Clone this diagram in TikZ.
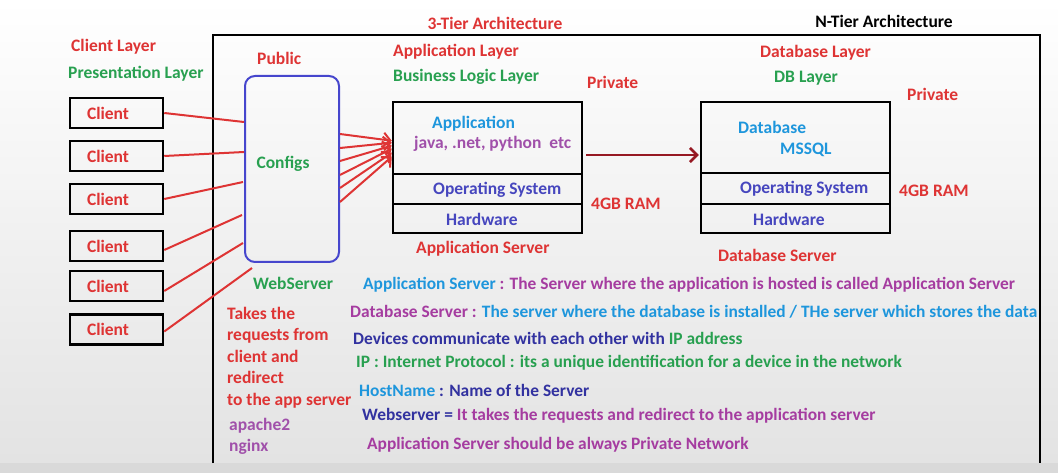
\documentclass[tikz,border=0pt]{standalone}
\usepackage{fontspec}
\setmainfont{Carlito}
\usetikzlibrary{arrows.meta,calc}
\definecolor{tred}{RGB}{222,52,52}
\definecolor{tgreen}{RGB}{40,160,80}
\definecolor{tcyan}{RGB}{30,150,220}
\definecolor{tpurple}{RGB}{160,80,170}
\definecolor{tmag}{RGB}{165,60,160}
\definecolor{tos}{RGB}{70,70,190}
\definecolor{tdblue}{RGB}{50,50,160}
\definecolor{tblue}{RGB}{70,70,205}
\definecolor{tdark}{RGB}{150,25,35}
\begin{document}
\begin{tikzpicture}[x=1pt,y=-1pt,
  font=\bfseries\fontsize{17.5}{20}\selectfont,
  lbl/.style={inner sep=0pt,anchor=west},
  small/.style={inner sep=0pt,anchor=west,font=\bfseries\fontsize{17.4}{20}\selectfont},
  clientbox/.style={draw=black,line width=2.5pt,minimum width=93pt,minimum height=30pt,inner xsep=17pt,text width=59pt,align=left,text=tred},
  tierbox/.style={draw=black,line width=2.5pt,minimum width=189pt,inner sep=0pt},
  redline/.style={draw=tred,line width=2pt},
  redarrow/.style={draw=tred,line width=2pt,-{Straight Barb[length=7pt,width=14pt,line width=2pt]}},
]
\useasboundingbox (0,0) rectangle (1058,473);
\shade[top color=white,bottom color=gray!22] (0,0) rectangle (1058,463);
\fill[gray!30] (0,463) rectangle (1058,473);

% frame
\draw[line width=2.5pt] (213,463) -- (213,35) -- (1040,35) -- (1040,463);

% titles
\node[inner sep=0pt,text=tred] (t3) at (495,23) {3-Tier Architecture};
\node[inner sep=0pt,text=black] (tn) at (884,21) {N-Tier Architecture};

% left labels
\node[lbl,text=tred] (cl) at (71,47) {Client Layer};
\node[lbl,text=tgreen] (pl) at (68,74) {Presentation Layer};
\node[lbl,text=tred] (pub) at (257,58) {Public};

% clients
\node[clientbox] (c1) at (116.5,113) {Client};
\node[clientbox] (c2) at (116.5,156) {Client};
\node[clientbox] (c3) at (116.5,199) {Client};
\node[clientbox] (c4) at (116.5,246) {Client};
\node[clientbox] (c5) at (116.5,286) {Client};
\node[clientbox] (c6) at (116.5,329.5) {Client};

% web server
\node[draw=tblue,line width=2pt,rounded corners=10pt,minimum width=94pt,minimum height=186pt] (ws) at (292,169) {};
\node[inner sep=0pt,text=tgreen] (cfg) at (283,164) {Configs};
\node[lbl,text=tgreen] (wsl) at (253,283) {WebServer};
\node[lbl,text=tred,align=left,font=\bfseries\fontsize{17.5}{21.5}\selectfont,anchor=north west] (takes) at (227,307) {Takes the\\requests from\\client and\\redirect\\to the app server};
\node[lbl,text=tpurple] (ap2) at (229,426) {apache2};
\node[lbl,text=tpurple] (ngx) at (229,447) {nginx};

% client -> webserver lines
\coordinate (w1) at ($(ws.north west)+(0,47)$);
\coordinate (w2) at ($(ws.north west)+(0,77)$);
\coordinate (w3) at ($(ws.north west)+(-1,107)$);
\coordinate (w4) at ($(ws.north west)+(-2,140)$);
\coordinate (w5) at ($(ws.north west)+(-1,168)$);
\coordinate (w6) at ($(ws.south west)+(8,5)$);
\draw[redline] (c1.east) -- (w1);
\draw[redline] (c2.east) -- (w2);
\draw[redline] (c3.east) -- (w3);
\draw[redline] ($(c4.east)+(0,4)$) -- (w4);
\draw[redline] ($(c5.east)+(0,5)$) -- (w5);
\draw[redline] ($(c6.east)+(0,2)$) -- (w6);

% application server
\node[tierbox,minimum height=72pt] (appTop) at (487.5,138) {};
\node[tierbox,minimum height=30pt] (appOS) at (487.5,189) {};
\node[tierbox,minimum height=29pt] (appHW) at (487.5,218.5) {};
\node[lbl,text=tred] (al) at (393,52) {Application Layer};
\node[lbl,text=tgreen] (bl) at (393,77) {Business Logic Layer};
\node[lbl,text=tred] (pr1) at (587,82) {Private};
\node[lbl,text=tcyan] (apt) at (432,124) {Application};
\node[lbl,text=tpurple] (lang) at (414,144) {java, .net, python\ \ etc};
\node[lbl,text=tos] (os1) at (433,190) {Operating System};
\node[lbl,text=tos] (hw1) at (446,219) {Hardware};
\node[lbl,text=tred] (ram1) at (591,204) {4GB RAM};
\node[lbl,text=tred] (as) at (416,249) {Application Server};

% webserver -> app arrows
\foreach \i/\sy/\ey in {1/-35/4,2/-21/6,3/-8/9,4/6/12,5/19/16,6/33/20}{
  \coordinate (s\i) at ($(ws.east)+(0,\sy)$);
  \coordinate (e\i) at ($(appTop.north west)+(0,40+\ey-4)$);
  \draw[redarrow] (s\i) -- (e\i);
}

% database server
\node[tierbox,minimum height=71pt] (dbTop) at (795.5,137.5) {};
\node[tierbox,minimum height=31pt] (dbOS) at (795.5,188.5) {};
\node[tierbox,minimum height=29pt] (dbHW) at (795.5,218.5) {};
\node[lbl,text=tred] (dl) at (760,53) {Database Layer};
\node[lbl,text=tgreen] (dbl) at (774,78) {DB Layer};
\node[lbl,text=tred] (pr2) at (907,94) {Private};
\node[lbl,text=tcyan] (dbt) at (738,127) {Database};
\node[lbl,text=tcyan] (ms) at (780,150) {MSSQL};
\node[lbl,text=tos] (os2) at (740,189) {Operating System};
\node[lbl,text=tos] (hw2) at (753,219) {Hardware};
\node[lbl,text=tred] (ram2) at (899,191) {4GB RAM};
\node[lbl,text=tred] (ds) at (718,255) {Database Server};

% app -> db
\draw[draw=tdark,line width=2.5pt,-{Straight Barb[length=7pt,width=14pt,line width=2.5pt]}] ($(appTop.east)+(3,17)$) -- ($(dbTop.west)+(-1,17.5)$);

% notes
\node[small] (n1) at (363,285) {\color{tcyan}Application Server \color{tmag}: The Server where the application is hosted is called Application Server};
\node[small] (n2) at (350,312) {\color{tmag}Database Server : \color{tcyan}The server where the database is installed / THe server which stores the data};
\node[small] (n3) at (353,338) {\color{tdblue}Devices communicate with each other with \color{tgreen}IP address};
\node[small,text=tgreen] (n4) at (356,363) {IP : Internet Protocol : its a unique identification for a device in the network};
\node[small] (n5) at (359,390) {\color{tcyan}HostName \color{tdblue}: Name of the Server};
\node[small] (n6) at (362,416) {\color{tdblue}Webserver = \color{tmag}It takes the requests and redirect to the application server};
\node[small,text=tmag] (n7) at (367,445) {Application Server should be always Private Network};
\end{tikzpicture}
\end{document}
